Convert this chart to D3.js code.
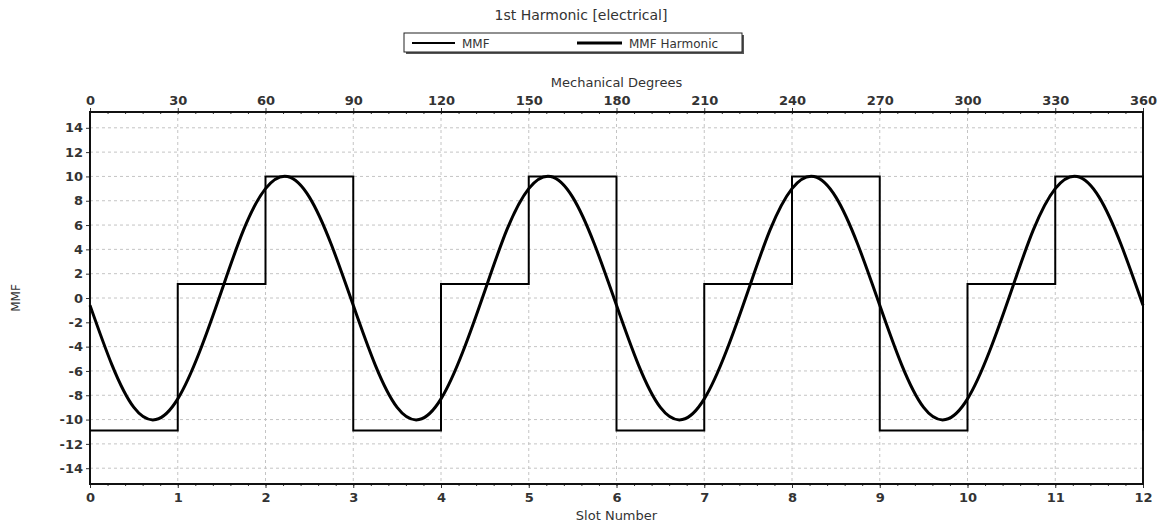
<!DOCTYPE html>
<html>
<head>
<meta charset="utf-8">
<script src="https://cdn.jsdelivr.net/npm/d3@7"></script>
<style>
  body { margin: 0; background: #fff; }
  text { font-family: "DejaVu Sans", Verdana, sans-serif; fill: #333; }
</style>
</head>
<body>
<svg width="1162" height="526"></svg>
<script>
// slot positions and MMF level for each slot (step value after each slot edge)
var slots = [0,1,2,3,4,5,6,7,8,9,10,11,12]
var mmfLevels = [-10.9,1.15,10,-10.9,1.15,10,-10.9,1.15,10,-10.9,1.15,10,-10.9]

// harmonic read at every quarter slot
var harmSlots = d3.range(0, 12.001, 0.25)
var harmValues = [
  -0.6,-5.5,-9.0,-10.0,-8.3,-4.4,0.6,5.6,9.0,10.0,8.3,4.4,
  -0.6,-5.5,-9.0,-10.0,-8.3,-4.4,0.6,5.6,9.0,10.0,8.3,4.4,
  -0.6,-5.5,-9.0,-10.0,-8.3,-4.4,0.6,5.6,9.0,10.0,8.3,4.4,
  -0.6,-5.5,-9.0,-10.0,-8.3,-4.4,0.6,5.6,9.0,10.0,8.3,4.4,
  -0.6]

var degreeTicks = [0,30,60,90,120,150,180,210,240,270,300,330,360]
var yTicks = [-14,-12,-10,-8,-6,-4,-2,0,2,4,6,8,10,12,14]

var svg = d3.select('svg')
var pLeft = 90, pRight = 1143, pTop = 112, pBottom = 484

var x = d3.scaleLinear().domain([0,12]).range([pLeft,pRight])
var xDeg = d3.scaleLinear().domain([0,360]).range([pLeft,pRight])
var y = d3.scaleLinear().domain([-15.3,15.3]).range([pBottom,pTop])

// grid
svg.append('g').selectAll('line')
   .data(slots.slice(1,-1))
   .enter().append('line')
   .attr('x1', d => x(d)).attr('x2', d => x(d))
   .attr('y1', pTop).attr('y2', pBottom)
   .attr('stroke','#c4c4c4').attr('stroke-dasharray','3,3')
svg.append('g').selectAll('line')
   .data(yTicks)
   .enter().append('line')
   .attr('x1', pLeft).attr('x2', pRight)
   .attr('y1', d => y(d)).attr('y2', d => y(d))
   .attr('stroke','#c4c4c4').attr('stroke-dasharray','3,3')

// axes (plain hyphen for negatives, like the original)
var fmt = d => String(d)
svg.append('g')
   .attr('transform','translate(0,'+pBottom+')')
   .call(d3.axisBottom(x).tickValues(slots).tickFormat(fmt).tickSize(4).tickPadding(5))
svg.append('g')
   .attr('transform','translate(0,'+pBottom+')')
   .call(d3.axisBottom(x).tickValues(d3.range(0,12,0.2)).tickFormat('').tickSize(2))
svg.append('g')
   .attr('transform','translate(0,'+pTop+')')
   .call(d3.axisTop(xDeg).tickValues(degreeTicks).tickFormat(fmt).tickSize(4).tickPadding(3))
svg.append('g')
   .attr('transform','translate(0,'+pTop+')')
   .call(d3.axisTop(xDeg).tickValues(d3.range(0,360,6)).tickFormat('').tickSize(-2))
svg.append('g')
   .attr('transform','translate('+pLeft+',0)')
   .call(d3.axisLeft(y).tickValues(yTicks).tickFormat(fmt).tickSize(4).tickPadding(3))

svg.selectAll('.domain').remove()
svg.selectAll('.tick line').attr('stroke','#333')
svg.selectAll('.tick text').style('font-size','13px').style('font-weight','bold').attr('fill','#333')

// frame
svg.append('rect')
   .attr('x',pLeft).attr('y',pTop)
   .attr('width',pRight-pLeft).attr('height',pBottom-pTop)
   .attr('fill','none').attr('stroke','#111').attr('stroke-width',2)

// MMF step line
var mmfData = slots.map((s,i) => [s, mmfLevels[i]])
svg.append('path')
   .datum(mmfData)
   .attr('fill','none').attr('stroke','#000').attr('stroke-width',2)
   .attr('d', d3.line().x(d => x(d[0])).y(d => y(d[1])).curve(d3.curveStepAfter))

// harmonic
var harmData = harmSlots.map((s,i) => [s, harmValues[i]])
svg.append('path')
   .datum(harmData)
   .attr('fill','none').attr('stroke','#000').attr('stroke-width',3)
   .attr('d', d3.line().x(d => x(d[0])).y(d => y(d[1])).curve(d3.curveNatural))

// titles
svg.append('text').attr('x',581).attr('y',20).attr('text-anchor','middle')
   .style('font-size','14px').text('1st Harmonic [electrical]')
svg.append('text').attr('x',(pLeft+pRight)/2).attr('y',87).attr('text-anchor','middle')
   .style('font-size','13px').text('Mechanical Degrees')
svg.append('text').attr('x',(pLeft+pRight)/2).attr('y',520).attr('text-anchor','middle')
   .style('font-size','13px').text('Slot Number')
svg.append('text').attr('transform','translate(20,'+y(0)+') rotate(-90)').attr('text-anchor','middle')
   .style('font-size','12px').text('MMF')

// legend
var legend = svg.append('g')
legend.append('rect').attr('x',406).attr('y',35).attr('width',338).attr('height',19).attr('fill','#555')
legend.append('rect').attr('x',404).attr('y',33).attr('width',338).attr('height',19)
   .attr('fill','#fff').attr('stroke','#222').attr('stroke-width',1)
var legendItems = [
  {name:'MMF', x1:412, x2:455, w:2},
  {name:'MMF Harmonic', x1:577, x2:622, w:3}
]
legend.selectAll('line').data(legendItems).enter().append('line')
   .attr('x1', d => d.x1).attr('x2', d => d.x2).attr('y1',43).attr('y2',43)
   .attr('stroke','#000').attr('stroke-width', d => d.w)
legend.selectAll('text').data(legendItems).enter().append('text')
   .attr('x', d => d.x2 + 7).attr('y',47.5)
   .style('font-size','12px').text(d => d.name)
</script>
</body>
</html>
